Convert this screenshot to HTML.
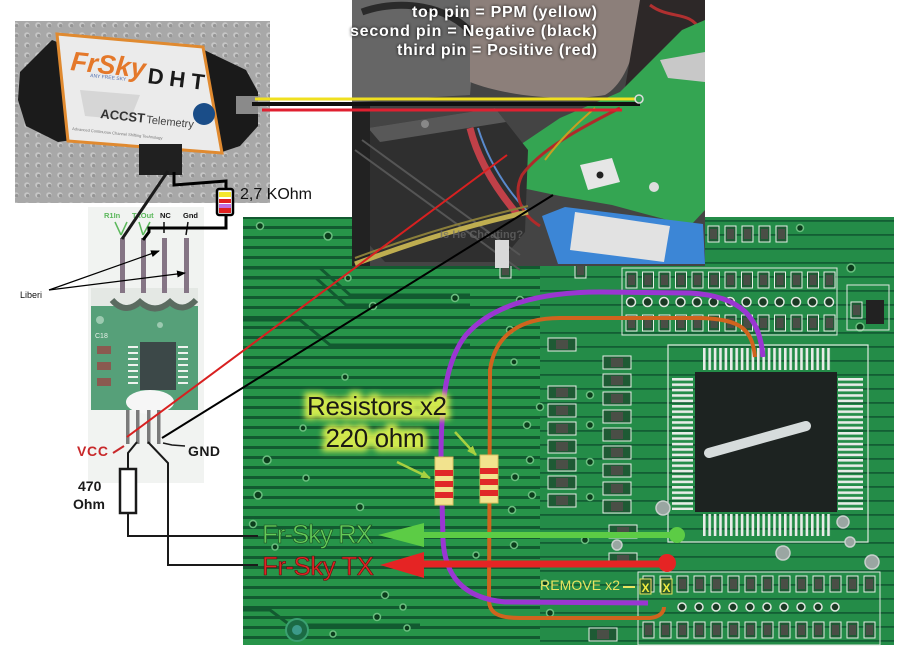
<!DOCTYPE html>
<html><head><meta charset="utf-8">
<style>
html,body{margin:0;padding:0;background:#fff;}
svg{display:block;}
text{font-family:"Liberation Sans",sans-serif;}
</style></head><body>
<svg width="903" height="657" viewBox="0 0 903 657" xmlns="http://www.w3.org/2000/svg">
<defs>
<pattern id="dots" width="11" height="10" patternUnits="userSpaceOnUse">
 <rect width="11" height="10" fill="#a8a8a8"/>
 <circle cx="5" cy="5" r="2.8" fill="#c6c6c6"/>
 <circle cx="5.7" cy="5.7" r="1.7" fill="#959595"/>
</pattern>
<pattern id="tr" width="30" height="10" patternUnits="userSpaceOnUse">
 <rect width="30" height="10" fill="#279449"/>
 <rect y="6" width="30" height="3" fill="#125a30"/>
</pattern>
<pattern id="tr2" width="30" height="14" patternUnits="userSpaceOnUse">
 <rect width="30" height="14" fill="#248c48"/>
 <rect y="10" width="30" height="1.8" fill="#135e34"/>
</pattern>
<pattern id="pv" width="5.4" height="30" patternUnits="userSpaceOnUse" x="703">
 <rect width="2.6" height="30" fill="#e8ece8"/>
</pattern>
<pattern id="ph" width="30" height="5.4" patternUnits="userSpaceOnUse" y="378">
 <rect width="30" height="2.6" fill="#e8ece8"/>
</pattern>
<g id="cv"><rect x="0" y="0" width="11" height="16" fill="#1e5a34" stroke="#e6efe6" stroke-width="1"/><rect x="2" y="3" width="7" height="10" fill="#4a4e46"/></g>
<g id="ch"><rect x="0" y="0" width="28" height="13" fill="#1e5a34" stroke="#e6efe6" stroke-width="1"/><rect x="8" y="2" width="12" height="9" fill="#4a4e46"/></g>
<filter id="glow" x="-20%" y="-40%" width="140%" height="180%"><feGaussianBlur stdDeviation="3"/></filter>
<filter id="sh" x="-10%" y="-30%" width="120%" height="160%"><feGaussianBlur stdDeviation="1.5"/></filter>
<marker id="ah" markerWidth="9" markerHeight="7" refX="8" refY="3.5" orient="auto" markerUnits="userSpaceOnUse"><path d="M0,0 L9,3.5 L0,7 Z" fill="#000"/></marker>
<marker id="ag" markerWidth="10" markerHeight="8" refX="9" refY="4" orient="auto" markerUnits="userSpaceOnUse"><path d="M0,0 L10,4 L0,8 Z" fill="#a8d040"/></marker>
</defs>

<rect width="903" height="657" fill="#fff"/>

<!-- module light background -->
<rect x="88" y="207" width="116" height="276" fill="#f1f3f1"/>

<!-- FrSky photo -->
<rect x="15" y="21" width="255" height="182" fill="url(#dots)"/>
<polygon points="20,72 52,40 62,44 72,140 58,142 26,126 18,100" fill="#1b1b1b"/>
<polygon points="200,48 246,70 258,92 258,126 240,146 222,152" fill="#1a1a1a"/>
<rect x="236" y="96" width="22" height="18" fill="#8a8a8a"/>
<polygon points="57,34 203,47 222,153 68,141" fill="#ebebeb" stroke="#e08a30" stroke-width="3"/>
<polygon points="80,90 140,95 130,120 85,116" fill="#d6d6d6"/>
<text x="70" y="70" font-size="27" font-weight="bold" font-style="italic" fill="#e4782a" transform="rotate(6 70 70)">FrSky</text>
<text x="90" y="77" font-size="5" fill="#5070b0" transform="rotate(6 90 77)">ANY FREE SKY</text>
<text x="147" y="83" font-size="22" font-weight="bold" fill="#1a1a1a" transform="rotate(7 147 83)" textLength="57">DHT</text>
<text x="100" y="118" font-size="13" font-weight="bold" fill="#333" transform="rotate(6 100 118)">ACCST</text>
<text x="146" y="123" font-size="11" fill="#444" transform="rotate(6 146 123)">Telemetry</text>
<text x="72" y="130" font-size="4" fill="#777" transform="rotate(6 72 130)">Advanced Continuous Channel Shifting Technology</text>
<circle cx="204" cy="114" r="11" fill="#1a4d88"/>
<rect x="139" y="144" width="43" height="31" fill="#202020"/>

<!-- PCB -->
<rect x="243" y="217" width="651" height="428" fill="url(#tr)"/>
<rect x="540" y="217" width="354" height="428" fill="url(#tr2)"/>
<path d="M243,268 L320,268 L350,295 L470,295" stroke="#125a30" stroke-width="3" fill="none"/>
<path d="M243,278 L316,278 L346,305 L470,305" stroke="#125a30" stroke-width="3" fill="none"/>
<path d="M243,320 L300,320 L330,345 L470,345" stroke="#125a30" stroke-width="3" fill="none"/>
<path d="M243,610 L270,610 L290,625 L420,625" stroke="#125a30" stroke-width="3" fill="none"/>
<g fill="#0c3c1c" stroke="#6cbf80" stroke-width="1.5">
<circle cx="260" cy="226" r="3.5"/><circle cx="328" cy="236" r="4"/><circle cx="348" cy="278" r="3"/>
<circle cx="455" cy="298" r="3.5"/><circle cx="373" cy="306" r="3.5"/><circle cx="345" cy="377" r="3"/>
<circle cx="303" cy="428" r="3"/><circle cx="267" cy="460" r="4"/><circle cx="306" cy="478" r="3"/>
<circle cx="258" cy="495" r="4"/><circle cx="360" cy="507" r="3.5"/><circle cx="253" cy="524" r="3.5"/>
<circle cx="275" cy="547" r="3"/><circle cx="385" cy="595" r="3.5"/><circle cx="403" cy="607" r="3"/>
<circle cx="377" cy="617" r="3.5"/><circle cx="407" cy="628" r="3"/><circle cx="333" cy="634" r="3"/>
<circle cx="520" cy="300" r="3.5"/><circle cx="510" cy="330" r="3.5"/><circle cx="514" cy="362" r="3"/>
<circle cx="540" cy="407" r="3.5"/><circle cx="527" cy="425" r="3.5"/><circle cx="530" cy="460" r="3.5"/>
<circle cx="515" cy="477" r="3.5"/><circle cx="532" cy="495" r="3.5"/><circle cx="512" cy="510" r="3.5"/>
<circle cx="514" cy="545" r="3.5"/><circle cx="476" cy="555" r="3"/><circle cx="545" cy="583" r="3"/>
<circle cx="590" cy="395" r="3.5"/><circle cx="590" cy="425" r="3.5"/><circle cx="590" cy="462" r="3.5"/>
<circle cx="590" cy="497" r="3.5"/><circle cx="585" cy="540" r="3.5"/><circle cx="550" cy="613" r="3.5"/>
<circle cx="566" cy="228" r="3.5"/><circle cx="800" cy="228" r="3.5"/><circle cx="851" cy="268" r="4"/><circle cx="860" cy="327" r="4"/>
</g>
<circle cx="297" cy="630" r="11" fill="#1b6a44" stroke="#3aa070" stroke-width="2"/>
<circle cx="297" cy="630" r="5" fill="#3c9a8a"/>

<!-- components -->
<g>
<rect x="622" y="268" width="215" height="67" fill="none" stroke="#dfe8df" stroke-width="1"/>
<use href="#cv" x="626" y="272"/><use href="#cv" x="642.5" y="272"/><use href="#cv" x="659" y="272"/><use href="#cv" x="675.5" y="272"/><use href="#cv" x="692" y="272"/><use href="#cv" x="708.5" y="272"/><use href="#cv" x="725" y="272"/><use href="#cv" x="741.5" y="272"/><use href="#cv" x="758" y="272"/><use href="#cv" x="774.5" y="272"/><use href="#cv" x="791" y="272"/><use href="#cv" x="807.5" y="272"/><use href="#cv" x="824" y="272"/>
<use href="#cv" x="626" y="315"/><use href="#cv" x="642.5" y="315"/><use href="#cv" x="659" y="315"/><use href="#cv" x="675.5" y="315"/><use href="#cv" x="692" y="315"/><use href="#cv" x="708.5" y="315"/><use href="#cv" x="725" y="315"/><use href="#cv" x="741.5" y="315"/><use href="#cv" x="758" y="315"/><use href="#cv" x="774.5" y="315"/><use href="#cv" x="791" y="315"/><use href="#cv" x="807.5" y="315"/><use href="#cv" x="824" y="315"/>
<g fill="#1a3a24" stroke="#e0e8e0" stroke-width="1.5">
<circle cx="631" cy="302" r="4.5"/><circle cx="647.5" cy="302" r="4.5"/><circle cx="664" cy="302" r="4.5"/><circle cx="680.5" cy="302" r="4.5"/><circle cx="697" cy="302" r="4.5"/><circle cx="713.5" cy="302" r="4.5"/><circle cx="730" cy="302" r="4.5"/><circle cx="746.5" cy="302" r="4.5"/><circle cx="763" cy="302" r="4.5"/><circle cx="779.5" cy="302" r="4.5"/><circle cx="796" cy="302" r="4.5"/><circle cx="812.5" cy="302" r="4.5"/><circle cx="829" cy="302" r="4.5"/>
</g>
<use href="#cv" x="708" y="226"/><use href="#cv" x="725" y="226"/><use href="#cv" x="742" y="226"/><use href="#cv" x="759" y="226"/><use href="#cv" x="776" y="226"/>
<use href="#cv" x="500" y="262"/><use href="#cv" x="575" y="262"/>
<rect x="847" y="285" width="42" height="45" fill="none" stroke="#dfe8df" stroke-width="1"/>
<rect x="866" y="300" width="18" height="24" fill="#222"/>
<use href="#cv" x="851" y="302"/>

<use href="#ch" x="548" y="338"/><use href="#ch" x="548" y="386"/><use href="#ch" x="548" y="404"/><use href="#ch" x="548" y="422"/><use href="#ch" x="548" y="440"/><use href="#ch" x="548" y="458"/><use href="#ch" x="548" y="476"/><use href="#ch" x="548" y="494"/>
<use href="#ch" x="603" y="356"/><use href="#ch" x="603" y="374"/><use href="#ch" x="603" y="392"/><use href="#ch" x="603" y="410"/><use href="#ch" x="603" y="428"/><use href="#ch" x="603" y="446"/><use href="#ch" x="603" y="464"/><use href="#ch" x="603" y="482"/><use href="#ch" x="603" y="500"/>
<use href="#ch" x="609" y="525"/><use href="#ch" x="609" y="553"/><use href="#ch" x="589" y="628"/>

<rect x="638" y="572" width="242" height="73" fill="none" stroke="#dfe8df" stroke-width="1"/>
<use href="#cv" x="643" y="576"/><use href="#cv" x="660" y="576"/><use href="#cv" x="677" y="576"/><use href="#cv" x="694" y="576"/><use href="#cv" x="711" y="576"/><use href="#cv" x="728" y="576"/><use href="#cv" x="745" y="576"/><use href="#cv" x="762" y="576"/><use href="#cv" x="779" y="576"/><use href="#cv" x="796" y="576"/><use href="#cv" x="813" y="576"/><use href="#cv" x="830" y="576"/><use href="#cv" x="847" y="576"/><use href="#cv" x="864" y="576"/>
<use href="#cv" x="643" y="622"/><use href="#cv" x="660" y="622"/><use href="#cv" x="677" y="622"/><use href="#cv" x="694" y="622"/><use href="#cv" x="711" y="622"/><use href="#cv" x="728" y="622"/><use href="#cv" x="745" y="622"/><use href="#cv" x="762" y="622"/><use href="#cv" x="779" y="622"/><use href="#cv" x="796" y="622"/><use href="#cv" x="813" y="622"/><use href="#cv" x="830" y="622"/><use href="#cv" x="847" y="622"/><use href="#cv" x="864" y="622"/>
<g fill="#1a3a24" stroke="#e0e8e0" stroke-width="1.5">
<circle cx="682" cy="607" r="4"/><circle cx="699" cy="607" r="4"/><circle cx="716" cy="607" r="4"/><circle cx="733" cy="607" r="4"/><circle cx="750" cy="607" r="4"/><circle cx="767" cy="607" r="4"/><circle cx="784" cy="607" r="4"/><circle cx="801" cy="607" r="4"/><circle cx="818" cy="607" r="4"/><circle cx="835" cy="607" r="4"/>
</g>
</g>

<!-- chip -->
<rect x="668" y="345" width="200" height="197" fill="none" stroke="#dfe8df" stroke-width="1.2"/>
<rect x="703" y="348" width="128" height="22" fill="url(#pv)"/>
<rect x="703" y="514" width="128" height="22" fill="url(#pv)"/>
<rect x="672" y="378" width="21" height="132" fill="url(#ph)"/>
<rect x="838" y="378" width="25" height="132" fill="url(#ph)"/>
<rect x="695" y="372" width="142" height="140" fill="#1d2321"/>
<line x1="709" y1="453" x2="806" y2="426" stroke="#d6dcdc" stroke-width="10" stroke-linecap="round"/>
<g fill="#9aa6a2" stroke="#c8d0cc" stroke-width="1.5">
<circle cx="663" cy="508" r="7"/><circle cx="843" cy="522" r="6"/><circle cx="783" cy="553" r="7"/><circle cx="872" cy="562" r="7"/><circle cx="850" cy="542" r="5"/><circle cx="617" cy="545" r="5"/>
</g>

<!-- middle photo -->
<g>
<rect x="352" y="0" width="353" height="266" fill="#444"/>
<polygon points="352,0 478,0 470,95 352,102" fill="#666"/>
<path d="M362,12 C400,-2 450,6 472,34" stroke="#2a2a2a" stroke-width="7" fill="none"/>
<path d="M470,0 L640,0 C640,40 628,82 605,95 C565,102 505,96 470,82 Z" fill="#8c7f7a"/>
<polygon points="640,0 705,0 705,25 665,55 625,88" fill="#2d2828"/>
<path d="M650,5 C670,20 690,10 700,30" stroke="#b03030" stroke-width="3" fill="none"/>
<polygon points="505,155 560,118 620,92 650,62 682,30 705,20 705,210 690,226 612,205 560,196 522,188" fill="#34a552"/>
<polygon points="660,60 705,52 705,82 668,78" fill="#c8c8c8"/>
<polygon points="580,165 612,158 620,182 588,190" fill="#e6e6e6"/>
<circle cx="600" cy="175" r="3.5" fill="#222"/>
<circle cx="654" cy="187" r="5" fill="#ddd"/>
<polygon points="368,128 495,108 528,150 525,232 500,262 385,262 365,240" fill="#2f2f2f"/>
<polygon points="368,128 495,108 506,122 380,142" fill="#585858"/>
<circle cx="425" cy="124" r="4" fill="#888"/>
<rect x="352" y="102" width="18" height="164" fill="#222"/>
<path d="M355,150 L520,270 M362,140 L520,255" stroke="#555" stroke-width="2"/>
<path d="M470,128 C478,160 495,188 518,215" stroke="#c04048" stroke-width="7" fill="none"/>
<path d="M478,128 C488,160 505,188 528,212" stroke="#5a8acd" stroke-width="2" fill="none"/>
<path d="M620,108 C580,128 540,150 522,175 C512,195 522,215 540,226" stroke="#b02a2a" stroke-width="3" fill="none"/>
<path d="M595,108 C575,125 560,140 545,160" stroke="#c8a020" stroke-width="2" fill="none"/>
<path d="M355,264 C420,240 470,225 528,212" stroke="#bfae50" stroke-width="5" fill="none"/>
<path d="M355,258 C420,234 470,220 528,206" stroke="#8a7e3a" stroke-width="2" fill="none"/>
<polygon points="542,216 565,207 703,224 705,264 558,264" fill="#3c86d6"/>
<polygon points="575,212 670,226 664,262 570,250" fill="#e2e2e2"/>
<rect x="495" y="240" width="14" height="28" fill="#d8d8d8"/>
<text x="440" y="238" font-size="11" font-weight="bold" fill="#6a6a6a" opacity="0.7">Is He Cheating?</text>
</g>

<!-- wires from FrSky to radio -->
<line x1="252" y1="104" x2="640" y2="104" stroke="#111" stroke-width="4"/>
<line x1="255" y1="99" x2="636" y2="99" stroke="#f0e020" stroke-width="3"/>
<line x1="262" y1="110" x2="622" y2="110" stroke="#e02030" stroke-width="3"/>
<circle cx="639" cy="99" r="4" fill="none" stroke="#ddd" stroke-width="1.5"/>

<!-- photo text -->
<g font-weight="bold" font-size="16" text-anchor="end">
<g fill="#000" filter="url(#sh)" opacity="0.9">
<text x="597" y="17" textLength="185">top pin = PPM (yellow)</text>
<text x="597" y="36" textLength="247">second pin = Negative (black)</text>
<text x="597" y="55" textLength="200">third pin = Positive (red)</text>
</g>
<g fill="#fff">
<text x="597" y="17" textLength="185">top pin = PPM (yellow)</text>
<text x="597" y="36" textLength="247">second pin = Negative (black)</text>
<text x="597" y="55" textLength="200">third pin = Positive (red)</text>
</g>
</g>

<!-- purple & orange wires -->
<path d="M755,357 C752,330 742,319 700,318 L560,318 C520,318 495,335 490,370 L489,600 C489,614 500,618 520,618 L650,618 C660,617 664,612 664,607" stroke="#d0641e" stroke-width="4" fill="none"/>
<path d="M763,357 C760,318 742,296 690,293 L600,292 C540,292 492,305 466,335 C446,360 441,400 441,460 L443,540 C445,575 462,598 505,602 L648,603" stroke="#9a36d2" stroke-width="5" fill="none"/>

<!-- 220 ohm resistors -->
<g>
<rect x="435" y="457" width="18" height="48" fill="#f2e38e" stroke="#d8c060" stroke-width="1"/>
<rect x="435" y="470" width="18" height="6" fill="#e02828"/><rect x="435" y="481" width="18" height="6" fill="#e02828"/><rect x="435" y="492" width="18" height="6" fill="#e02828"/>
<rect x="480" y="455" width="18" height="48" fill="#f2e38e" stroke="#d8c060" stroke-width="1"/>
<rect x="480" y="468" width="18" height="6" fill="#e02828"/><rect x="480" y="479" width="18" height="6" fill="#e02828"/><rect x="480" y="490" width="18" height="6" fill="#e02828"/>
</g>
<line x1="397" y1="462" x2="430" y2="478" stroke="#a8d040" stroke-width="2.5" marker-end="url(#ag)"/>
<line x1="455" y1="432" x2="476" y2="455" stroke="#a8d040" stroke-width="2.5" marker-end="url(#ag)"/>

<!-- Resistors text -->
<g font-size="26" text-anchor="middle">
<text x="377" y="415" textLength="140" fill="#e4f450" stroke="#e4f450" stroke-width="9" filter="url(#glow)" opacity="0.9">Resistors x2</text>
<text x="375" y="447" textLength="99" fill="#e4f450" stroke="#e4f450" stroke-width="9" filter="url(#glow)" opacity="0.9">220 ohm</text>
<text x="377" y="415" textLength="140" fill="#1a1a14">Resistors x2</text>
<text x="375" y="447" textLength="99" fill="#1a1a14">220 ohm</text>
</g>

<!-- RX / TX arrows -->
<line x1="420" y1="535" x2="677" y2="535" stroke="#5ccc45" stroke-width="6"/>
<polygon points="378,535 424,523 424,547" fill="#5ccc45"/>
<circle cx="677" cy="535" r="8" fill="#5ccc45"/>
<line x1="420" y1="564" x2="667" y2="564" stroke="#e52424" stroke-width="7"/>
<polygon points="380,565 424,552 424,578" fill="#e52424"/>
<circle cx="667" cy="563" r="9" fill="#e52424"/>
<text x="262" y="543" font-size="26" fill="#64cc58" stroke="#1c4a22" stroke-width="0.6" textLength="111">Fr-Sky RX</text>
<text x="262" y="575" font-size="26" fill="#e02424" stroke="#5a1010" stroke-width="0.6" textLength="112">Fr-Sky TX</text>

<!-- remove -->
<text x="540" y="590" font-size="14" fill="#e8e460" textLength="80">REMOVE x2</text>
<line x1="623" y1="587" x2="635" y2="587" stroke="#e8e460" stroke-width="2"/>
<rect x="640" y="579" width="11" height="15" fill="#2a5a2a" stroke="#e8e460" stroke-width="1"/>
<rect x="661" y="579" width="11" height="15" fill="#2a5a2a" stroke="#e8e460" stroke-width="1"/>
<text x="645.5" y="592" font-size="12" font-weight="bold" fill="#f0ec40" text-anchor="middle">X</text>
<text x="666.5" y="592" font-size="12" font-weight="bold" fill="#f0ec40" text-anchor="middle">X</text>

<!-- module board -->
<rect x="91" y="288" width="107" height="122" fill="#56a079"/>
<rect x="91" y="288" width="107" height="18" fill="#e4e8e4"/>
<path d="M112,300 Q125,315 140,302 Q155,315 170,302 Q183,314 196,300" stroke="#5b6b60" stroke-width="6" fill="none"/>
<rect x="140" y="342" width="36" height="48" fill="#3c4848"/>
<g stroke="#eef2ee" stroke-width="2">
<line x1="128" y1="347" x2="138" y2="347"/><line x1="128" y1="353" x2="138" y2="353"/><line x1="128" y1="359" x2="138" y2="359"/><line x1="128" y1="365" x2="138" y2="365"/><line x1="128" y1="371" x2="138" y2="371"/><line x1="128" y1="377" x2="138" y2="377"/><line x1="128" y1="383" x2="138" y2="383"/>
<line x1="178" y1="347" x2="188" y2="347"/><line x1="178" y1="353" x2="188" y2="353"/><line x1="178" y1="359" x2="188" y2="359"/><line x1="178" y1="365" x2="188" y2="365"/><line x1="178" y1="371" x2="188" y2="371"/><line x1="178" y1="377" x2="188" y2="377"/><line x1="178" y1="383" x2="188" y2="383"/>
</g>
<rect x="97" y="346" width="14" height="8" fill="#8a5a50"/><rect x="97" y="362" width="14" height="8" fill="#8a5a50"/><rect x="97" y="378" width="14" height="8" fill="#8a5a50"/>
<circle cx="100" cy="320" r="4" fill="#9ccab0"/><circle cx="160" cy="325" r="3" fill="#9ccab0"/>
<text x="95" y="338" font-size="7" fill="#e8f0e8">C18</text>
<ellipse cx="150" cy="402" rx="24" ry="12" fill="#f6f6f6"/>

<!-- top header pins -->
<g fill="#857585">
<rect x="120" y="238" width="5" height="55"/><rect x="141" y="238" width="5" height="55"/><rect x="162" y="238" width="5" height="55"/><rect x="184" y="238" width="5" height="55"/>
</g>
<!-- bottom pins -->
<g fill="#7a7a7a">
<rect x="126" y="410" width="3.5" height="34"/><rect x="136" y="410" width="3.5" height="34"/><rect x="147" y="410" width="3.5" height="34"/><rect x="157" y="410" width="3.5" height="34"/>
</g>

<!-- pin labels -->
<g font-size="7.5" font-weight="bold">
<text x="104" y="218" fill="#5cb85c">R1In</text>
<text x="132" y="218" fill="#5cb85c">TxOut</text>
<text x="160" y="218" fill="#111">NC</text>
<text x="183" y="218" fill="#111">Gnd</text>
</g>
<g stroke="#5cb85c" stroke-width="1.5">
<line x1="115" y1="222" x2="121" y2="235"/><line x1="127" y1="222" x2="121" y2="235"/>
<line x1="139" y1="222" x2="143" y2="235"/><line x1="150" y1="222" x2="143" y2="235"/>
</g>
<g stroke="#111" stroke-width="1.5">
<line x1="164" y1="222" x2="164" y2="233"/><line x1="188" y1="222" x2="186" y2="235"/>
</g>

<!-- schematic wires top -->
<line x1="168" y1="171" x2="122" y2="239" stroke="#1a1a1a" stroke-width="3"/>
<polyline points="174,172 174,185 226,181 226,190" fill="none" stroke="#000" stroke-width="3"/>
<polyline points="226,214 226,228 149,228 149,232 143,240" fill="none" stroke="#000" stroke-width="3"/>
<rect x="217" y="189" width="16" height="26" rx="2" fill="#fff" stroke="#000" stroke-width="2.5"/>
<rect x="219" y="192" width="12" height="5" fill="#f4e630"/>
<rect x="219" y="199" width="12" height="4" fill="#e02020"/>
<rect x="219" y="204" width="12" height="4" fill="#c070e0"/>
<rect x="219" y="208" width="12" height="5" fill="#e02020"/>
<text x="240" y="199" font-size="16" fill="#111" textLength="72">2,7 KOhm</text>

<!-- Liberi -->
<text x="20" y="298" font-size="9" fill="#111">Liberi</text>
<line x1="49" y1="290" x2="159" y2="251" stroke="#000" stroke-width="1.2" marker-end="url(#ah)"/>
<line x1="49" y1="290" x2="185" y2="273" stroke="#000" stroke-width="1.2" marker-end="url(#ah)"/>

<!-- bottom schematic -->
<polyline points="137,442 128,453 128,469" fill="none" stroke="#1a1a1a" stroke-width="2"/>
<rect x="120" y="469" width="16" height="44" fill="#fff" stroke="#1a1a1a" stroke-width="2.5"/>
<polyline points="128,513 128,536 258,536" fill="none" stroke="#1a1a1a" stroke-width="2"/>
<polyline points="148,442 168,463 168,565 258,565" fill="none" stroke="#1a1a1a" stroke-width="2"/>
<text x="78" y="491" font-size="14" font-weight="bold" fill="#1a1a1a">470</text>
<text x="73" y="509" font-size="14" font-weight="bold" fill="#1a1a1a">Ohm</text>
<text x="77" y="456" font-size="14" font-weight="bold" fill="#c8282a" textLength="31">VCC</text>
<line x1="113" y1="453" x2="124" y2="446" stroke="#c8282a" stroke-width="2"/>
<text x="188" y="456" font-size="14" font-weight="bold" fill="#1a1a1a" textLength="32">GND</text>
<polyline points="163,443 172,445 185,446" fill="none" stroke="#1a1a1a" stroke-width="1.5"/>

<!-- long diagonal lines -->
<line x1="127" y1="437" x2="507" y2="155" stroke="#d82020" stroke-width="2"/>
<line x1="162" y1="438" x2="553" y2="195" stroke="#000" stroke-width="2"/>
</svg>
</body></html>
